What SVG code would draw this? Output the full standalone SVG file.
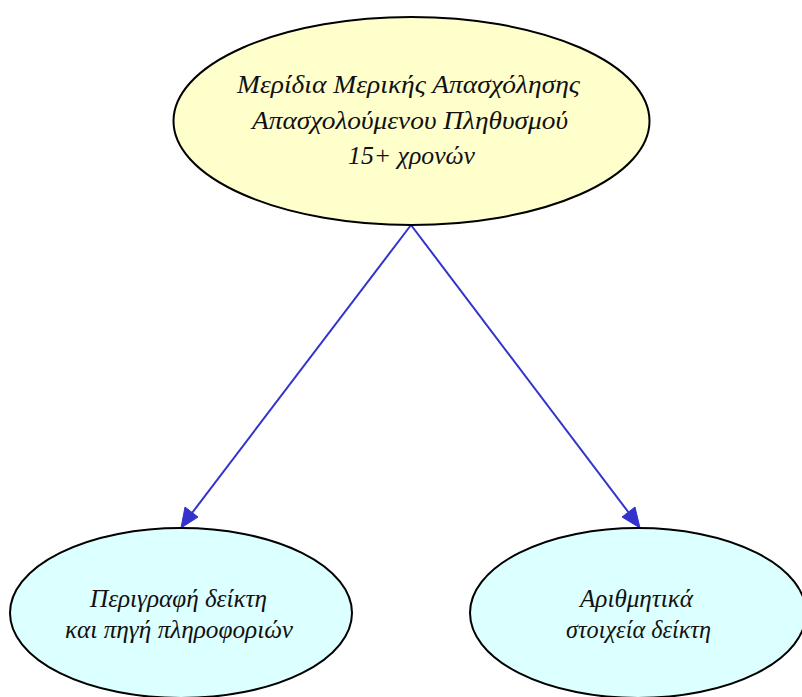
<svg xmlns="http://www.w3.org/2000/svg" width="802" height="697" viewBox="0 0 802 697">
<style>
.n ellipse{stroke:#000;stroke-width:2}
.top ellipse{fill:#ffffcc}
.leaf ellipse{fill:#dcffff}
text{font-family:"Liberation Serif","DejaVu Serif",serif;font-style:italic;font-size:25px;fill:#111;text-anchor:middle}
.e line{stroke:#3333cc;stroke-width:2}
.e polygon{fill:#3333cc;stroke:#3333cc;stroke-width:1}
</style>
<rect width="802" height="697" fill="#fff"/>
<g id="edges" class="e">
<line x1="411" y1="225" x2="192" y2="513"/>
<polygon points="181,528 185,507 198,517"/>
<line x1="411" y1="225" x2="629" y2="513"/>
<polygon points="640,528 622,517 635,507"/>
</g>
<g id="node_main" class="n top">
<ellipse cx="411.5" cy="121" rx="238" ry="104"/>
<text x="408.5" y="93" textLength="343" lengthAdjust="spacingAndGlyphs">Μερίδια Μερικής Απασχόλησης</text>
<text x="410" y="129" textLength="316" lengthAdjust="spacingAndGlyphs">Απασχολούμενου Πληθυσμού</text>
<text x="411.5" y="164" textLength="127" lengthAdjust="spacingAndGlyphs">15+ χρονών</text>
</g>
<g id="node_desc" class="n leaf">
<ellipse cx="181" cy="613" rx="171" ry="85"/>
<text x="178.5" y="607" textLength="177" lengthAdjust="spacingAndGlyphs">Περιγραφή δείκτη</text>
<text x="179" y="638" textLength="228" lengthAdjust="spacingAndGlyphs">και πηγή πληροφοριών</text>
</g>
<g id="node_data" class="n leaf">
<ellipse cx="638" cy="613" rx="168" ry="85"/>
<text x="636.5" y="607" textLength="113" lengthAdjust="spacingAndGlyphs">Αριθμητικά</text>
<text x="638.5" y="638" textLength="145" lengthAdjust="spacingAndGlyphs">στοιχεία δείκτη</text>
</g>
</svg>
